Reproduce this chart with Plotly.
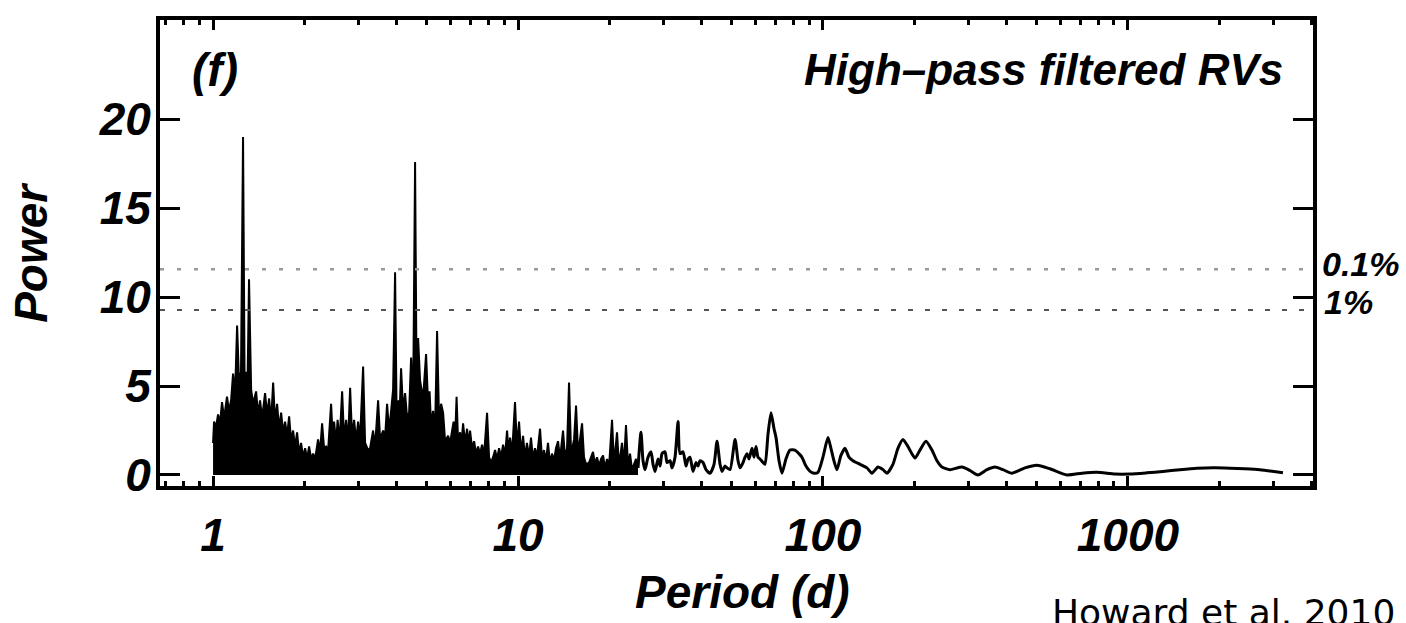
import plotly.graph_objects as go

# ---------------- data ----------------
# dense part of the periodogram (1 d to ~25 d); troughs = visible lower envelope
period_dense = [
    1.000, 1.0076, 1.023, 1.0385, 1.054, 1.070, 1.087, 1.111, 1.128, 1.146,
    1.163, 1.181, 1.199, 1.217, 1.235, 1.254, 1.2685, 1.283, 1.2976, 1.312,
    1.333, 1.353, 1.384, 1.405, 1.426, 1.448, 1.481, 1.504, 1.527, 1.550,
    1.574, 1.597, 1.622, 1.646, 1.672, 1.697, 1.723, 1.749, 1.776, 1.803,
    1.830, 1.858, 1.886, 1.915, 1.944, 1.974, 2.004, 2.034, 2.065, 2.097,
    2.128, 2.161, 2.210, 2.244, 2.278, 2.313, 2.348, 2.384, 2.438, 2.475,
    2.494, 2.532, 2.561, 2.600, 2.650, 2.690, 2.731, 2.772, 2.815, 2.857,
    2.901, 2.945, 2.990, 3.035, 3.105, 3.152, 3.224, 3.273, 3.348, 3.399,
    3.477, 3.530, 3.611, 3.666, 3.721, 3.778, 3.836, 3.894, 3.953, 3.998,
    4.044, 4.090, 4.136, 4.199, 4.263, 4.328, 4.394, 4.461, 4.529, 4.597,
    4.650, 4.703, 4.774, 4.883, 4.995, 5.070, 5.129, 5.187, 5.266, 5.347,
    5.428, 5.511, 5.594, 5.680, 5.766, 5.898, 5.988, 6.079, 6.148, 6.218,
    6.289, 6.360, 6.457, 6.530, 6.605, 6.705, 6.807, 6.885, 6.963, 7.069,
    7.177, 7.286, 7.397, 7.509, 7.623, 7.739, 7.917, 8.037, 8.160, 8.284,
    8.410, 8.538, 8.668, 8.800, 8.933, 9.069, 9.207, 9.312, 9.418, 9.562,
    9.776, 9.925, 10.08, 10.23, 10.39, 10.54, 10.70, 10.87, 11.03, 11.20,
    11.37, 11.54, 11.81, 11.99, 12.17, 12.35, 12.54, 12.73, 12.93, 13.12,
    13.32, 13.53, 13.73, 14.05, 14.26, 14.48, 14.70, 14.93, 15.27, 15.50,
    15.74, 15.97, 16.22, 16.46, 16.72, 17.10, 17.36, 17.62, 17.89, 18.16,
    18.44, 18.72, 19.01, 19.29, 19.59, 19.89, 20.34, 20.65, 21.12, 21.44,
    21.93, 22.26, 22.60, 22.95, 23.30, 23.65, 24.01, 24.38, 24.75,
]
power_dense = [
    1.8, 3.0, 2.7, 3.4, 2.9, 4.1, 3.2, 4.4, 3.6, 4.2,
    5.7, 4.6, 8.4, 5.2, 5.8, 19.0, 5.5, 5.8, 5.2, 11.0,
    4.8, 4.0, 4.7, 3.4, 4.2, 3.2, 4.6, 3.4, 4.3, 3.0,
    5.2, 3.0, 4.0, 2.6, 3.5, 2.4, 3.0, 2.2, 3.3, 1.9,
    2.5, 1.6, 2.4, 1.2, 1.8, 1.0, 1.5, 0.9, 1.6, 0.9,
    1.2, 0.9, 2.0, 1.3, 2.9, 1.5, 1.6, 1.4, 4.0, 1.7,
    3.0, 1.8, 3.1, 1.9, 4.7, 2.0, 3.1, 1.9, 4.9, 2.1,
    3.1, 1.9, 3.0, 2.0, 6.1, 1.8, 1.4, 1.5, 2.5, 1.6,
    4.2, 2.0, 2.5, 2.1, 4.0, 2.5, 3.6, 4.8, 11.4, 3.5,
    4.2, 3.4, 6.0, 3.6, 4.6, 3.2, 3.5, 6.6, 4.0, 17.6,
    5.0, 7.7, 5.3, 4.3, 6.8, 4.0, 4.7, 2.8, 3.6, 2.6,
    8.1, 3.0, 4.0, 3.5, 1.9, 2.2, 1.8, 2.5, 3.0, 2.0,
    4.4, 1.9, 2.4, 1.8, 2.9, 1.8, 2.6, 1.7, 2.5, 1.5,
    1.9, 1.2, 1.6, 1.2, 1.7, 1.1, 3.5, 1.0, 0.7, 1.0,
    1.4, 0.9, 1.5, 1.0, 1.7, 1.1, 2.5, 1.3, 2.1, 1.2,
    4.1, 1.5, 3.0, 1.2, 2.2, 1.0, 1.8, 1.0, 2.1, 0.9,
    1.5, 1.0, 2.6, 0.9, 1.4, 0.8, 1.8, 0.7, 1.2, 0.8,
    1.5, 1.9, 0.9, 2.5, 1.0, 1.5, 5.2, 1.2, 2.0, 3.9,
    1.2, 2.0, 2.9, 1.0, 0.6, 0.7, 1.0, 1.3, 0.6, 1.0,
    0.5, 0.9, 1.1, 0.4, 0.9, 0.5, 3.1, 0.6, 2.4, 0.5,
    1.8, 0.6, 2.8, 0.5, 1.2, 0.3, 0.6, 0.9, 0.4,
]

# smoother long-period part (~25 d to ~3200 d)
period_long = [
    24.75, 25.31, 25.70, 26.09, 26.69, 27.31, 27.72, 28.14, 28.79, 29.23,
    29.67, 30.35, 30.81, 31.52, 31.99, 32.73, 33.48, 33.99, 34.77, 35.57,
    36.11, 36.65, 37.49, 38.35, 38.94, 39.53, 40.44, 41.36, 42.63, 43.94,
    44.94, 45.97, 46.67, 47.74, 48.47, 49.58, 51.49, 52.66, 53.47, 54.69,
    55.52, 56.37, 57.22, 58.53, 59.42, 60.32, 61.24, 62.18, 63.60, 64.57,
    66.05, 67.56, 69.11, 70.16, 71.77, 73.41, 75.62, 77.95, 80.94, 83.42,
    85.33, 87.95, 90.69, 93.44, 96.30, 100.0, 103.85, 106.22, 108.66, 111.14,
    114.55, 118.09, 121.70, 125.42, 132.23, 139.40, 144.76, 151.47, 157.30, 162.13,
    169.63, 176.15, 182.93, 189.97, 200.33, 208.04, 217.68, 227.77, 236.54, 245.64,
    260.92, 285.60, 303.35, 322.22, 345.0, 366.4, 389.2, 416.6, 459.6, 503.0,
    555.0, 631.0, 706.7, 791.4, 906.9, 1015.2, 1154, 1302, 1481, 1684,
    1929, 2160, 2419, 2709, 3224,
]
power_long = [
    0.4, 2.4, 0.8, 0.3, 1.0, 1.3, 0.6, 0.2, 0.9, 0.5,
    1.2, 1.3, 0.7, 0.8, 0.4, 1.0, 3.0, 1.2, 1.3, 0.5,
    0.9, 1.0, 0.2, 0.7, 0.5, 0.8, 0.7, 0.3, 0.1, 0.6,
    1.9, 0.6, 0.2, 0.5, 0.4, 0.3, 2.0, 0.8, 0.4, 0.7,
    1.0, 1.2, 0.9, 1.5, 1.0, 1.6, 1.0, 0.9, 0.7, 0.6,
    2.3, 3.5, 2.6, 2.1, 0.8, 0.1, 0.9, 1.4, 1.4, 1.2,
    1.0, 0.5, 0.2, 0.1, 0.15, 1.0, 2.1, 1.5, 0.8, 0.3,
    1.1, 1.5, 1.0, 0.8, 0.6, 0.4, 0.1, 0.45, 0.3, 0.1,
    0.6, 1.5, 2.0, 1.6, 0.95, 1.4, 1.9, 1.4, 0.8, 0.45,
    0.3, 0.45, 0.25, 0.0, 0.3, 0.45, 0.3, 0.1, 0.4, 0.55,
    0.35, 0.0, 0.1, 0.15, 0.05, 0.05, 0.12, 0.2, 0.3, 0.38,
    0.4, 0.38, 0.35, 0.3, 0.12,
]

# false-alarm-probability levels
fap_levels = [11.57, 9.27]
fap_labels = ["0.1%", "1%"]

# axis ticks
x_major = [1, 10, 100, 1000]
x_major_text = ["1", "10", "100", "1000"]
x_minor = [0.7, 0.8, 0.9, 2, 3, 4, 5, 6, 7, 8, 9,
           20, 30, 40, 50, 60, 70, 80, 90,
           200, 300, 400, 500, 600, 700, 800, 900,
           2000, 3000, 4000]
y_major = [0, 5, 10, 15, 20]

# ---------------- figure ----------------
BOLD = "Liberation Sans, Arial, sans-serif"
bfont = dict(family=BOLD, size=46, color="black", weight="bold", style="italic")

fig = go.Figure()
fig.add_trace(go.Scatter(
    x=period_dense, y=power_dense, mode="lines",
    line=dict(color="black", width=2), fill="tozeroy", fillcolor="black",
    hoverinfo="x+y",
))
fig.add_trace(go.Scatter(
    x=period_long, y=power_long, mode="lines",
    line=dict(color="black", width=3, shape="spline", smoothing=0.6),
    hoverinfo="x+y",
))

fap_styles = [dict(color="#9a9a9a", width=2.5, dash="4px,13px"),
              dict(color="#555555", width=2, dash="5px,12px")]
for lvl, sty in zip(fap_levels, fap_styles):
    fig.add_shape(type="line", xref="paper", x0=0, x1=1, yref="y", y0=lvl, y1=lvl,
                  line=sty, layer="above")

fig.update_layout(
    width=1406, height=623,
    margin=dict(l=160, r=93, t=20, b=137),
    plot_bgcolor="white", paper_bgcolor="white",
    showlegend=False,
)
fig.update_xaxes(
    type="log", range=[-0.174, 3.607],
    tickvals=x_major, ticktext=x_major_text,
    ticks="inside", ticklen=10, tickwidth=3, tickcolor="black",
    showline=True, linewidth=4, linecolor="black", mirror="ticks",
    showgrid=False, zeroline=False,
    tickfont=bfont, ticklabelstandoff=6,
    minor=dict(tickvals=x_minor, ticks="inside", ticklen=5, tickwidth=3,
               tickcolor="black", showgrid=False),
)
fig.update_yaxes(
    range=[-0.62, 25.58], tickvals=y_major,
    ticks="inside", ticklen=20, tickwidth=3, tickcolor="black",
    showline=True, linewidth=4, linecolor="black", mirror="ticks",
    showgrid=False, zeroline=False,
    tickfont=bfont, ticklabelstandoff=-4,
)

ann = []
ann.append(dict(text="(f)", xref="paper", yref="paper", x=0.026, y=0.893,
                xanchor="left", yanchor="middle", showarrow=False, font=bfont))
ann.append(dict(text="High–pass filtered RVs", xref="paper", yref="paper",
                x=0.9757, y=0.893, xanchor="right", yanchor="middle",
                showarrow=False, font=dict(bfont, size=44)))
lab_font = dict(family=BOLD, size=34, color="black", weight="bold", style="italic")
ann.append(dict(text=fap_labels[0], xref="paper", yref="paper", x=1.006, y=0.476,
                xanchor="left", yanchor="middle", showarrow=False, font=lab_font))
ann.append(dict(text=fap_labels[1], xref="paper", yref="paper", x=1.008, y=0.395,
                xanchor="left", yanchor="middle", showarrow=False, font=lab_font))
ann.append(dict(text="Power", xref="paper", yref="paper", x=-0.112, y=0.5,
                xanchor="center", yanchor="middle", textangle=-90,
                showarrow=False, font=bfont))
ann.append(dict(text="Period (d)", xref="paper", yref="paper", x=0.505, y=-0.2275,
                xanchor="center", yanchor="middle", showarrow=False, font=bfont))
ann.append(dict(text="Howard et al. 2010", xref="paper", yref="paper",
                x=0.772, y=-0.223, xanchor="left", yanchor="top", showarrow=False,
                font=dict(family="DejaVu Sans", size=36, color="black")))
fig.update_layout(annotations=ann)

fig.write_html("out.html")
